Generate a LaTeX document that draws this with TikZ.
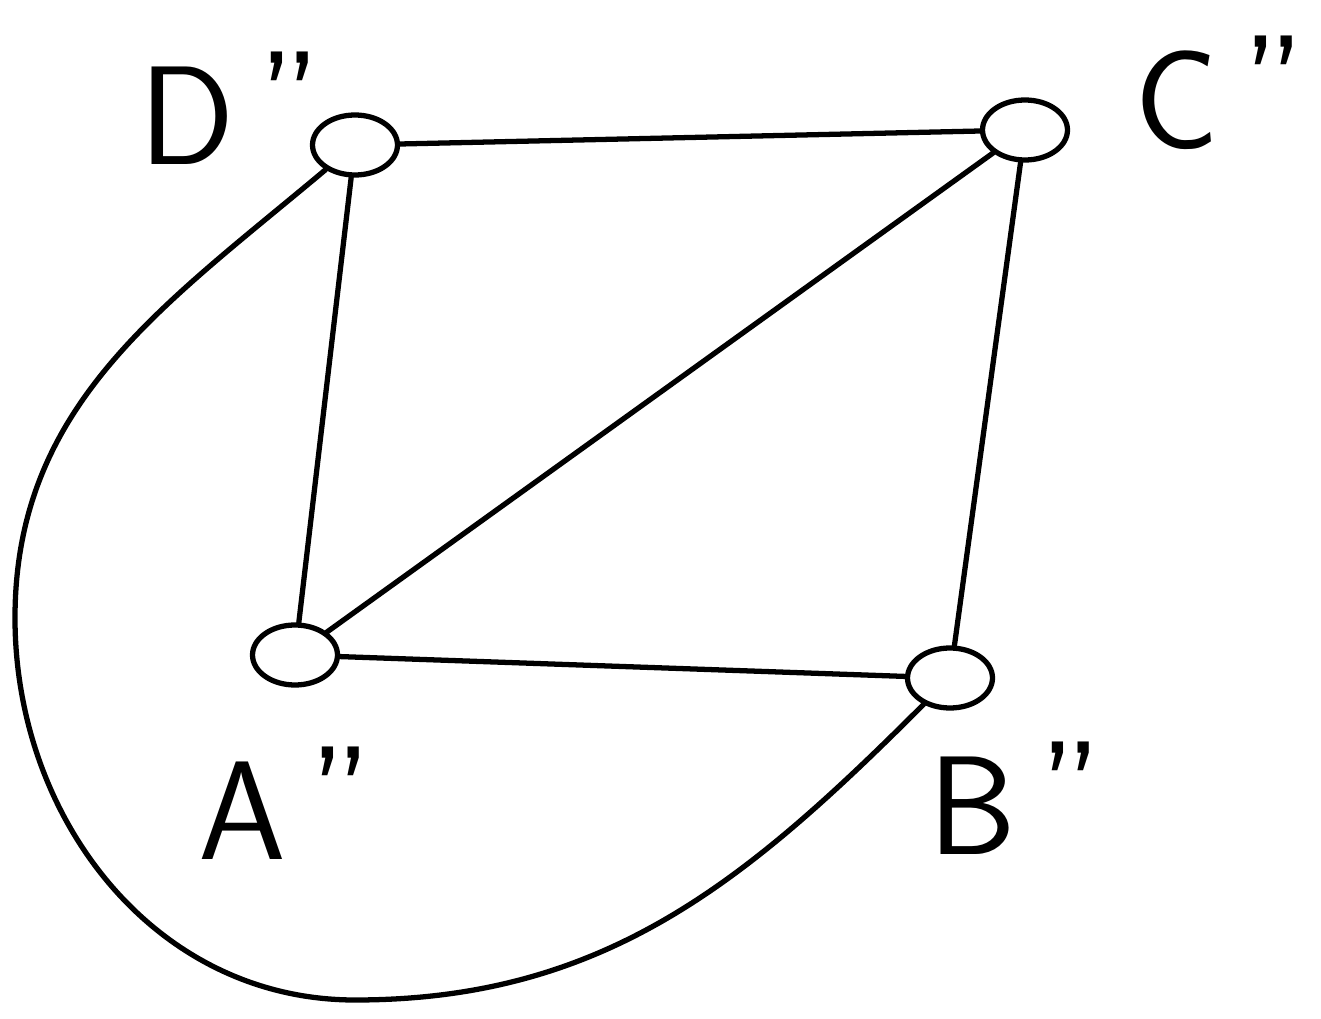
\documentclass[tikz,border=0pt]{standalone}
\usepackage{tikz}
\usetikzlibrary{shapes.geometric}
\tikzset{
  vtx/.style  ={ellipse, draw, line width=1.5pt, minimum width=0.85cm, minimum height=0.6cm, inner sep=0pt},
  edge/.style ={draw, line width=1.5pt, line cap=round, line join=round},
  lbl/.style  ={font=\sffamily\fontsize{40}{40}\selectfont}
}
\newcommand{\dprime}{\,\raisebox{0.25ex}{"}}
\begin{document}
\begin{tikzpicture}
\useasboundingbox (0,0) rectangle (13.21,10.18);

\node[vtx] (D) at (3.55,8.73) {};
\node[vtx] (C) at (10.25,8.88) {};
\node[vtx] (A) at (2.95,3.63) {};
\node[vtx] (B) at (9.50,3.40) {};

\node[lbl] (lD) at (2.30,9.10) {D\dprime};
\node[lbl] (lC) at (12.20,9.25) {C\dprime};
\node[lbl] (lA) at (2.85,2.15) {A\dprime};
\node[lbl] (lB) at (10.15,2.20) {B\dprime};

\draw[edge] (D) -- (C);
\draw[edge] (D) -- (A);
\draw[edge] (C) -- (B);
\draw[edge] (A) -- (B);
\draw[edge] (A) -- (C);

\coordinate (lft) at (0.15,4.0);
\coordinate (bot) at (3.55,0.18);
\draw[edge] (D) to[out=-140,in=90] (lft) to[out=-90,in=180] (bot)
  to[out=0,in=-135] (B);
\end{tikzpicture}
\end{document}
